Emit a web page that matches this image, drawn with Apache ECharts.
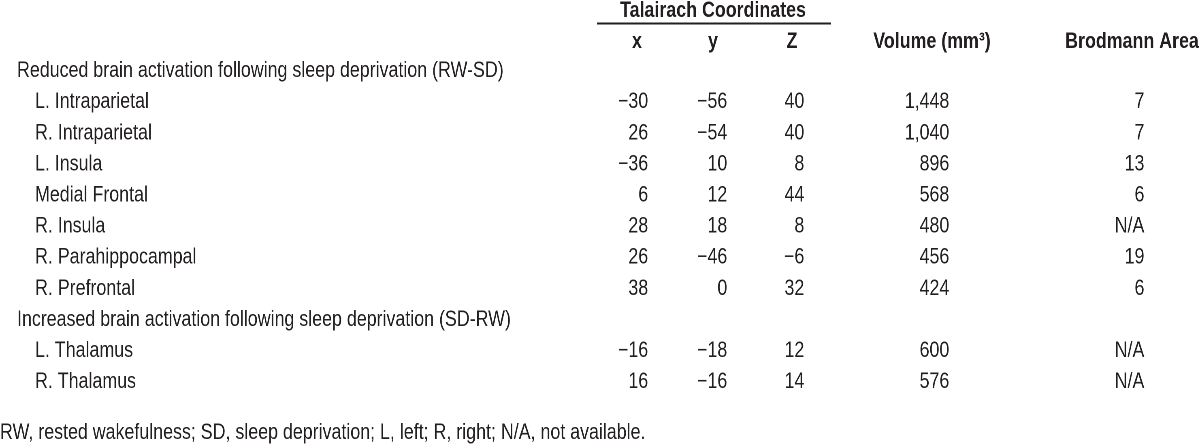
<!DOCTYPE html>
<html>
<head>
<meta charset="utf-8">
<script src="https://cdn.jsdelivr.net/npm/echarts@6/dist/echarts.min.js"></script>
<style>
  html, body { margin: 0; padding: 0; background: #fff; overflow: hidden; }
  /* the reference uses a condensed face; draw wider and squeeze horizontally */
  #main { width: 1481.5px; height: 446px; transform: scaleX(0.81); transform-origin: 0 0; }
</style>
</head>
<body>
<div id="main"></div>
<script>
// table rows (group headings have no values)
const rowNames = [
  'Reduced brain activation following sleep deprivation (RW-SD)',
  'L. Intraparietal',
  'R. Intraparietal',
  'L. Insula',
  'Medial Frontal',
  'R. Insula',
  'R. Parahippocampal',
  'R. Prefrontal',
  'Increased brain activation following sleep deprivation (SD-RW)',
  'L. Thalamus',
  'R. Thalamus'
]
const isGroup = [true, false, false, false, false, false, false, false, true, false, false]

const coordX = [null, -30, 26, -36, 6, 28, 26, 38, null, -16, 16]
const coordY = [null, -56, -54, 10, 12, 18, -46, 0, null, -18, -16]
const coordZ = [null, 40, 40, 8, 44, 8, -6, 32, null, 12, 14]
const volume = [null, 1448, 1040, 896, 568, 480, 456, 424, null, 600, 576]
const brodmann = [null, 7, 7, 13, 6, 'N/A', 19, 6, null, 'N/A', 'N/A']

const columnHeaders = ['x', 'y', 'Z', 'Volume (mm³)', 'Brodmann Area']
const spanHeader = 'Talairach Coordinates'
const footnote = 'RW, rested wakefulness; SD, sleep deprivation; L, left; R, right; N/A, not available.'

// layout (x positions in final screen pixels)
const S = 0.81
const px = x => x / S
const FONT = "'Liberation Sans', Arial, Helvetica, sans-serif"
const TEXT = '#231f20'
const SIZE = 22
const colRight = [648, 727, 804, 949, 1144]   // right edges of value columns
const headCenter = [637, 713, 792, 932, 1132]

const fmtNum = v => {
  if (typeof v === 'string') return v
  const s = Math.abs(v).toLocaleString('en-US')
  return v < 0 ? '\u2212' + s : s
}

const labelStyle = {
  show: true,
  distance: 0,
  color: TEXT,
  fontFamily: FONT,
  fontSize: SIZE
}

const valueSeries = (values, colIdx) => ({
  type: 'scatter',
  symbolSize: 0,
  silent: true,
  itemStyle: { color: 'transparent', opacity: 1 },
  label: Object.assign({}, labelStyle, {
    position: 'left',
    formatter: p => fmtNum(p.value[2])
  }),
  data: values
    .map((v, i) => (v === null ? null : [colRight[colIdx], i, v]))
    .filter(d => d !== null)
})

const chart = echarts.init(document.getElementById('main'), null, { devicePixelRatio: 2 })

const option = {
  animation: false,
  backgroundColor: '#fff',
  grid: { left: 0, right: 0, top: 55.45, height: 342.1 },
  xAxis: { type: 'value', min: 0, max: 1200, show: false },
  yAxis: { type: 'category', data: rowNames, inverse: true, show: false },
  series: [
    {
      type: 'scatter',
      symbolSize: 0,
      silent: true,
      itemStyle: { color: 'transparent', opacity: 1 },
      label: Object.assign({}, labelStyle, {
        position: 'right',
        formatter: p => rowNames[p.value[1]]
      }),
      data: rowNames.map((n, i) => [isGroup[i] ? 17 : 35, i])
    },
    valueSeries(coordX, 0),
    valueSeries(coordY, 1),
    valueSeries(coordZ, 2),
    valueSeries(volume, 3),
    valueSeries(brodmann, 4)
  ],
  graphic: [
    {
      type: 'text',
      x: px(713), y: 11,
      style: {
        text: spanHeader, fill: TEXT, font: 'bold ' + SIZE + 'px ' + FONT,
        textAlign: 'center', textVerticalAlign: 'middle'
      }
    },
    {
      type: 'line',
      shape: { x1: px(597), y1: 23.5, x2: px(831), y2: 23.5 },
      style: { stroke: TEXT, lineWidth: 2 }
    },
    ...columnHeaders.map((h, i) => ({
      type: 'text',
      x: px(headCenter[i]), y: 42,
      style: {
        text: h, fill: TEXT, font: 'bold ' + SIZE + 'px ' + FONT,
        textAlign: 'center', textVerticalAlign: 'middle'
      }
    })),
    {
      type: 'text',
      x: 0, y: 433,
      style: {
        text: footnote, fill: TEXT, font: SIZE + 'px ' + FONT,
        textAlign: 'left', textVerticalAlign: 'middle'
      }
    }
  ]
}

chart.setOption(option)
</script>
</body>
</html>
